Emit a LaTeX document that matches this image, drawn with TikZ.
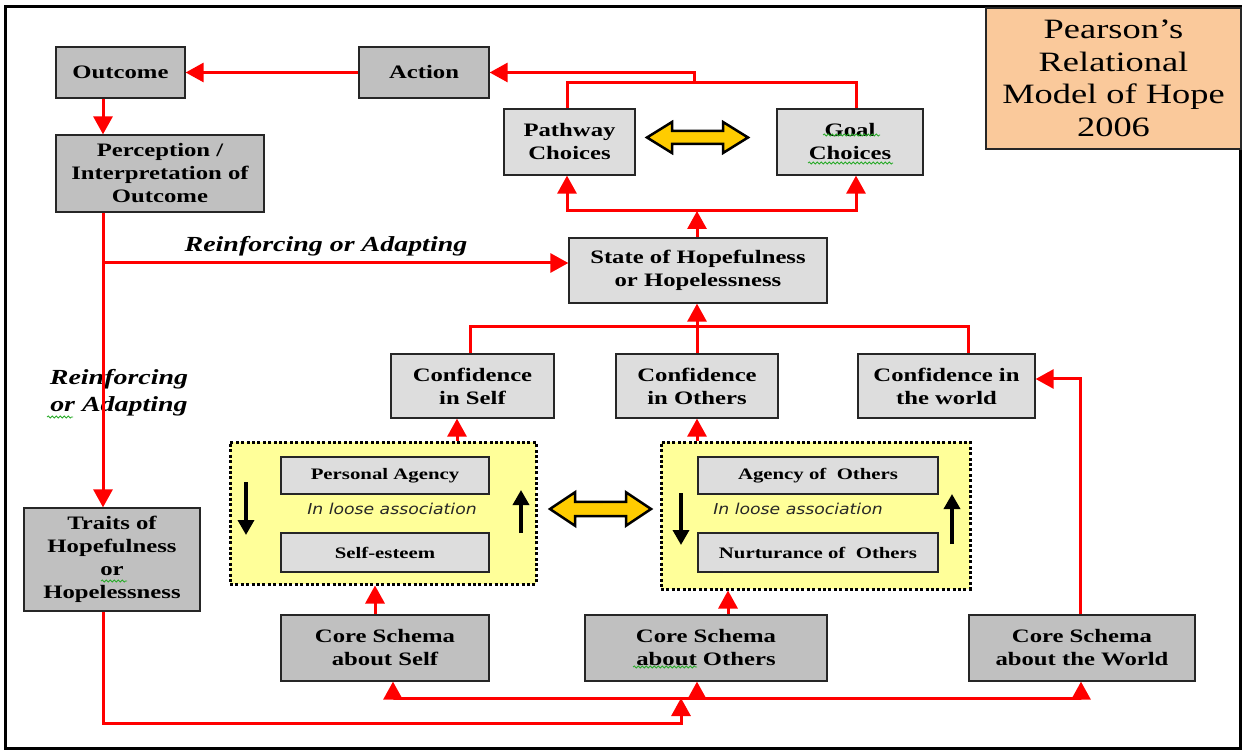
\documentclass[tikz,border=0pt]{standalone}
\usepackage{fontspec}
\setmainfont{Liberation Serif}[FakeStretch=1.3]
\newfontfamily\assocfont{DejaVu Sans}[FakeStretch=1.15]
\usetikzlibrary{arrows.meta,decorations.pathmorphing}

\definecolor{boxdark}{RGB}{192,192,192}
\definecolor{boxlight}{RGB}{221,221,221}
\definecolor{titlefill}{RGB}{250,201,155}
\definecolor{assocyellow}{RGB}{255,255,153}
\definecolor{linkgold}{RGB}{255,204,0}
\definecolor{squiggle}{RGB}{40,170,40}

\begin{document}
\begin{tikzpicture}[x=1pt,y=-1pt,
  base/.style={draw=black!85, line width=1.3pt, inner sep=0pt, align=center,
    font=\fontsize{19}{23}\selectfont\bfseries},
  darkbox/.style={base, fill=boxdark},
  lightbox/.style={base, fill=boxlight},
  smallbox/.style={lightbox, font=\fontsize{16}{19}\selectfont\bfseries},
  titlebox/.style={draw=black!85, line width=1.3pt, fill=titlefill, inner sep=0pt,
    align=center, font=\fontsize{28}{32.5}\selectfont},
  assoc/.style={draw=black, line width=3pt, dash pattern=on 3pt off 2.4pt, fill=assocyellow},
  assoctext/.style={inner sep=0pt, text=black!85, font=\assocfont\itshape\fontsize{15}{18}\selectfont},
  rline/.style={draw=red, line width=3pt},
  rarrow/.style={rline, -{Triangle[length=18pt,width=19pt]}},
  karrow/.style={draw=black, line width=3.5pt, -{Triangle[length=15pt,width=16pt]}},
  lbl/.style={font=\fontsize{21.5}{28}\selectfont\bfseries\itshape, inner sep=0pt, align=center},
  wavy/.style={draw=squiggle, line width=0.8pt, decorate,
    decoration={snake, segment length=4pt, amplitude=1pt}},
  duoarrow/.pic={
    \draw[black, line width=2.5pt, fill=linkgold]
      (-50.5,0) -- (-25.5,-15.5) -- (-25.5,-6.5) -- (25.5,-6.5) -- (25.5,-15.5)
      -- (50.5,0) -- (25.5,15.5) -- (25.5,6.5) -- (-25.5,6.5) -- (-25.5,15.5) -- cycle;
  }
]
\useasboundingbox (0,0) rectangle (1243,751);
\fill[white] (0,0) rectangle (1243,751);
\draw[line width=3pt] (5,7) rectangle (1240,748);

% title
\node[titlebox, minimum width=255pt, minimum height=141pt] (title) at (1113.5,78.5)
  {Pearson’s\\Relational\\Model of Hope\\2006};

% upper chain
\node[darkbox, minimum width=129pt, minimum height=51pt] (outcome) at (120.5,72.5) {Outcome};
\node[darkbox, minimum width=130pt, minimum height=51pt] (action) at (424,72.5) {Action};
\node[darkbox, minimum width=208pt, minimum height=77pt] (perception) at (160,173.5)
  {Perception /\\Interpretation of\\Outcome};
\node[lightbox, minimum width=131pt, minimum height=66pt] (pathway) at (569.5,142) {Pathway\\Choices};
\node[lightbox, minimum width=146pt, minimum height=66pt] (goal) at (850,142) {Goal\\Choices};
\node[lightbox, minimum width=258pt, minimum height=65pt] (state) at (698,270.5)
  {State of Hopefulness\\or Hopelessness};

% confidence row
\node[lightbox, minimum width=163pt, minimum height=64pt] (confself) at (472.5,386) {Confidence\\in Self};
\node[lightbox, minimum width=162pt, minimum height=64pt] (confothers) at (697,386) {Confidence\\in Others};
\node[lightbox, minimum width=177pt, minimum height=64pt] (confworld) at (946.5,386) {Confidence in\\the world};

% loose association groups
\node[assoc, minimum width=306pt, minimum height=142pt] (selfgroup) at (383,513) {};
\node[assoc, minimum width=309pt, minimum height=147pt] (othersgroup) at (815.5,515.5) {};
\node[smallbox, minimum width=208pt, minimum height=37pt] (pagency) at (385,475.5) {Personal Agency};
\node[smallbox, minimum width=208pt, minimum height=39pt] (selfesteem) at (385,552.5) {Self-esteem};
\node[smallbox, minimum width=240pt, minimum height=37pt] (aothers) at (818,475.5) {Agency of~ Others};
\node[smallbox, minimum width=240pt, minimum height=39pt] (nothers) at (818,552.5) {Nurturance of~ Others};
\node[assoctext] (assocself) at (392,509) {In loose association};
\node[assoctext] (assocothers) at (798,509) {In loose association};

% traits and core schemas
\node[darkbox, minimum width=176pt, minimum height=103pt] (traits) at (112,559.5)
  {Traits of\\Hopefulness\\or\\Hopelessness};
\node[darkbox, minimum width=208pt, minimum height=66pt] (coreself) at (385,648) {Core Schema\\about Self};
\node[darkbox, minimum width=242pt, minimum height=66pt] (coreothers) at (706,648) {Core Schema\\about Others};
\node[darkbox, minimum width=226pt, minimum height=66pt] (coreworld) at (1082,648) {Core Schema\\about the World};

% labels (base anchor sits on the last line)
\node[lbl, anchor=base] (toplabel) at (326,252) {Reinforcing or Adapting};
\node[lbl, anchor=base] (sidelabel) at (119,412) {Reinforcing\\or Adapting};

% yellow two-way arrows
\pic at (697.5,137.5) {duoarrow};
\pic[yscale=1.08] at (600.5,509) {duoarrow};

% helper coordinates
\coordinate (lx) at (103,0);
\coordinate (split) at (103,263);
\coordinate (ptop) at (567,83);
\coordinate (gtop) at (856,83);
\coordinate (choicejoin) at (694,83);
\coordinate (sjoin) at (697,211);
\coordinate (cleft) at (470,327);
\coordinate (cright) at (968,327);
\coordinate (sgx) at (457,0);
\coordinate (csx) at (375,0);
\coordinate (cox) at (728,0);
\coordinate (cwx) at (1080,0);
\coordinate (feedlow) at (681,723);
\coordinate (feedjoin) at (681,698);
\coordinate (fself) at (393,698);
\coordinate (fothers) at (697,698);
\coordinate (fworld) at (1081,698);

% red connectors
\draw[rarrow] (action.west) -- (outcome.east);
\draw[rarrow] (outcome.south -| lx) -- (perception.north -| lx);
\draw[rarrow] (perception.south -| lx) -- (traits.north -| lx);
\draw[rarrow] (split) -- (split -| state.west);

\draw[rline] (pathway.north -| ptop) -- (ptop) -- (gtop) -- (goal.north -| gtop);
\draw[rarrow] (choicejoin) |- (action.east);

\draw[rarrow] (state.north -| sjoin) -- (sjoin);
\draw[rarrow] (sjoin) -| (pathway.south -| ptop);
\draw[rarrow] (sjoin) -| (goal.south -| gtop);

\draw[rline] (confself.north -| cleft) -- (cleft) -- (cright) -- (confworld.north -| cright);
\draw[rarrow] (confothers.north) -- (confothers.north |- state.south);

\draw[rarrow] (selfgroup.north -| sgx) -- (confself.south -| sgx);
\draw[rarrow] (othersgroup.north -| confothers) -- (confothers.south);
\draw[rarrow] (coreself.north -| csx) -- (selfgroup.south -| csx);
\draw[rarrow] (coreothers.north -| cox) -- (othersgroup.south -| cox);
\draw[rarrow] (coreworld.north -| cwx) |- ([yshift=7pt]confworld.east);

\draw[rarrow] (traits.south -| lx) |- (feedlow) -- (feedjoin);
\draw[rarrow] (fothers) -- (fself) -- (coreself.south -| fself);
\draw[rarrow] (fothers) -- (fworld) -- (coreworld.south -| fworld);
\draw[rarrow] (fothers) -- (coreothers.south -| fothers);

% black arrows inside the groups
\coordinate (sdtop) at (246,482); \coordinate (sdbot) at (246,535);
\coordinate (subot) at (521,533); \coordinate (sutop) at (521,490);
\coordinate (odtop) at (681,493); \coordinate (odbot) at (681,545);
\coordinate (oubot) at (952,544); \coordinate (outop) at (952,494);
\draw[karrow] (sdtop) -- (sdbot);
\draw[karrow] (subot) -- (sutop);
\draw[karrow] (odtop) -- (odbot);
\draw[karrow] (oubot) -- (outop);

% spelling marks
\draw[wavy] (823,135) -- (880,135);
\draw[wavy] (808,163) -- (893,163);
\draw[wavy] (101,581) -- (127,581);
\draw[wavy] (633,667) -- (697,667);
\draw[wavy] (47,417) -- (73,417);
\end{tikzpicture}
\end{document}
